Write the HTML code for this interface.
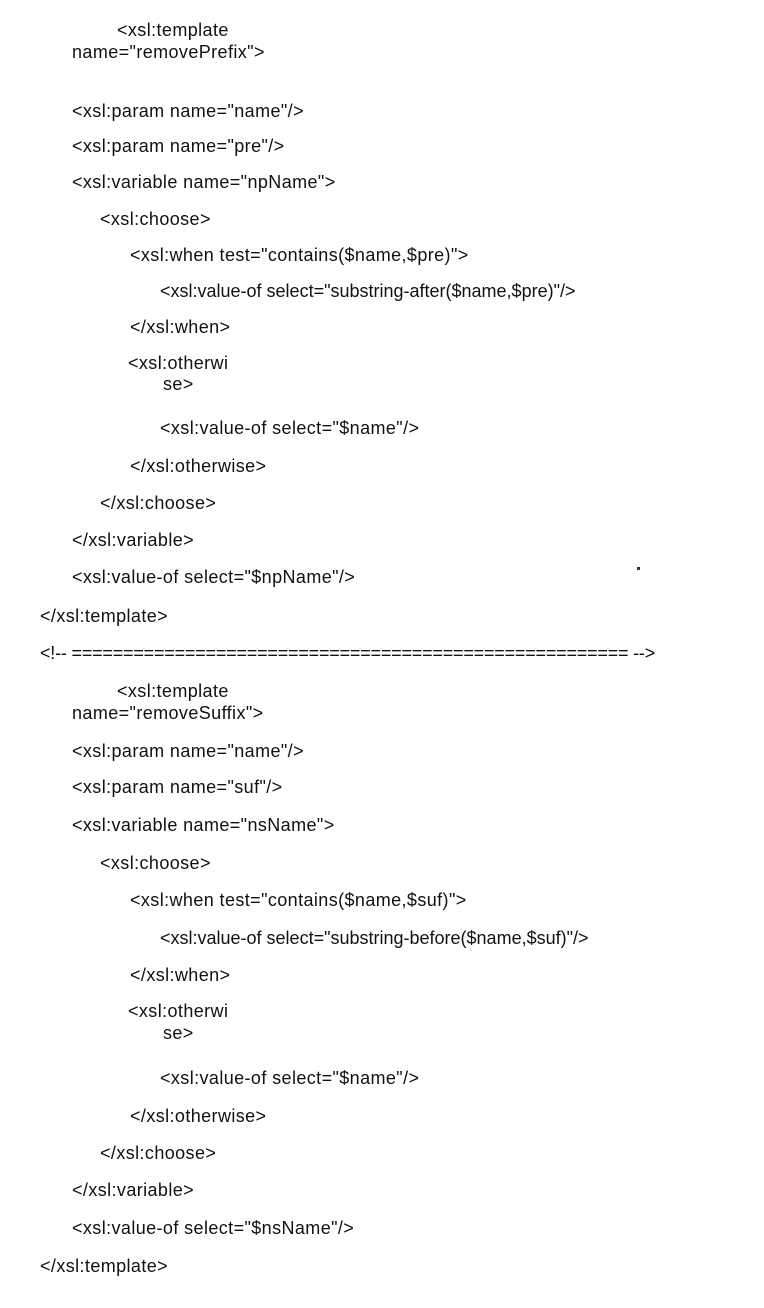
<!DOCTYPE html>
<html><head><meta charset="utf-8"><style>
body{margin:0;width:764px;height:1308px;background:#fff;position:relative;overflow:hidden}
div{position:absolute;font-family:"Liberation Sans",Arial,sans-serif;font-size:18px;letter-spacing:0.4px;line-height:20px;color:#111;white-space:pre}
</style></head><body>
<div style="left:117px;top:20px">&lt;xsl:template</div>
<div style="left:72px;top:42px">name="removePrefix"&gt;</div>
<div style="left:72px;top:101px">&lt;xsl:param name="name"/&gt;</div>
<div style="left:72px;top:136px">&lt;xsl:param name="pre"/&gt;</div>
<div style="left:72px;top:172px">&lt;xsl:variable name="npName"&gt;</div>
<div style="left:100px;top:209px">&lt;xsl:choose&gt;</div>
<div style="left:130px;top:245px">&lt;xsl:when test="contains($name,$pre)"&gt;</div>
<div style="left:160px;top:281px;letter-spacing:0">&lt;xsl:value-of select="substring-after($name,$pre)"/&gt;</div>
<div style="left:130px;top:317px">&lt;/xsl:when&gt;</div>
<div style="left:128px;top:353px">&lt;xsl:otherwi</div>
<div style="left:163px;top:374px">se&gt;</div>
<div style="left:160px;top:418px">&lt;xsl:value-of select="$name"/&gt;</div>
<div style="left:130px;top:456px">&lt;/xsl:otherwise&gt;</div>
<div style="left:100px;top:493px">&lt;/xsl:choose&gt;</div>
<div style="left:72px;top:530px">&lt;/xsl:variable&gt;</div>
<div style="left:72px;top:567px">&lt;xsl:value-of select="$npName"/&gt;</div>
<div style="left:40px;top:606px">&lt;/xsl:template&gt;</div>
<div style="left:40px;top:643px;letter-spacing:-0.2px">&lt;!-- ====================================================== --&gt;</div>
<div style="left:117px;top:681px">&lt;xsl:template</div>
<div style="left:72px;top:703px">name="removeSuffix"&gt;</div>
<div style="left:72px;top:741px">&lt;xsl:param name="name"/&gt;</div>
<div style="left:72px;top:777px">&lt;xsl:param name="suf"/&gt;</div>
<div style="left:72px;top:815px">&lt;xsl:variable name="nsName"&gt;</div>
<div style="left:100px;top:853px">&lt;xsl:choose&gt;</div>
<div style="left:130px;top:890px">&lt;xsl:when test="contains($name,$suf)"&gt;</div>
<div style="left:160px;top:928px;letter-spacing:0">&lt;xsl:value-of select="substring-before($name,$suf)"/&gt;</div>
<div style="left:130px;top:965px">&lt;/xsl:when&gt;</div>
<div style="left:128px;top:1001px">&lt;xsl:otherwi</div>
<div style="left:163px;top:1023px">se&gt;</div>
<div style="left:160px;top:1068px">&lt;xsl:value-of select="$name"/&gt;</div>
<div style="left:130px;top:1106px">&lt;/xsl:otherwise&gt;</div>
<div style="left:100px;top:1143px">&lt;/xsl:choose&gt;</div>
<div style="left:72px;top:1180px">&lt;/xsl:variable&gt;</div>
<div style="left:72px;top:1218px">&lt;xsl:value-of select="$nsName"/&gt;</div>
<div style="left:40px;top:1256px">&lt;/xsl:template&gt;</div>
<span style="position:absolute;left:637px;top:567px;width:3px;height:3px;background:#333"></span>
</body></html>
